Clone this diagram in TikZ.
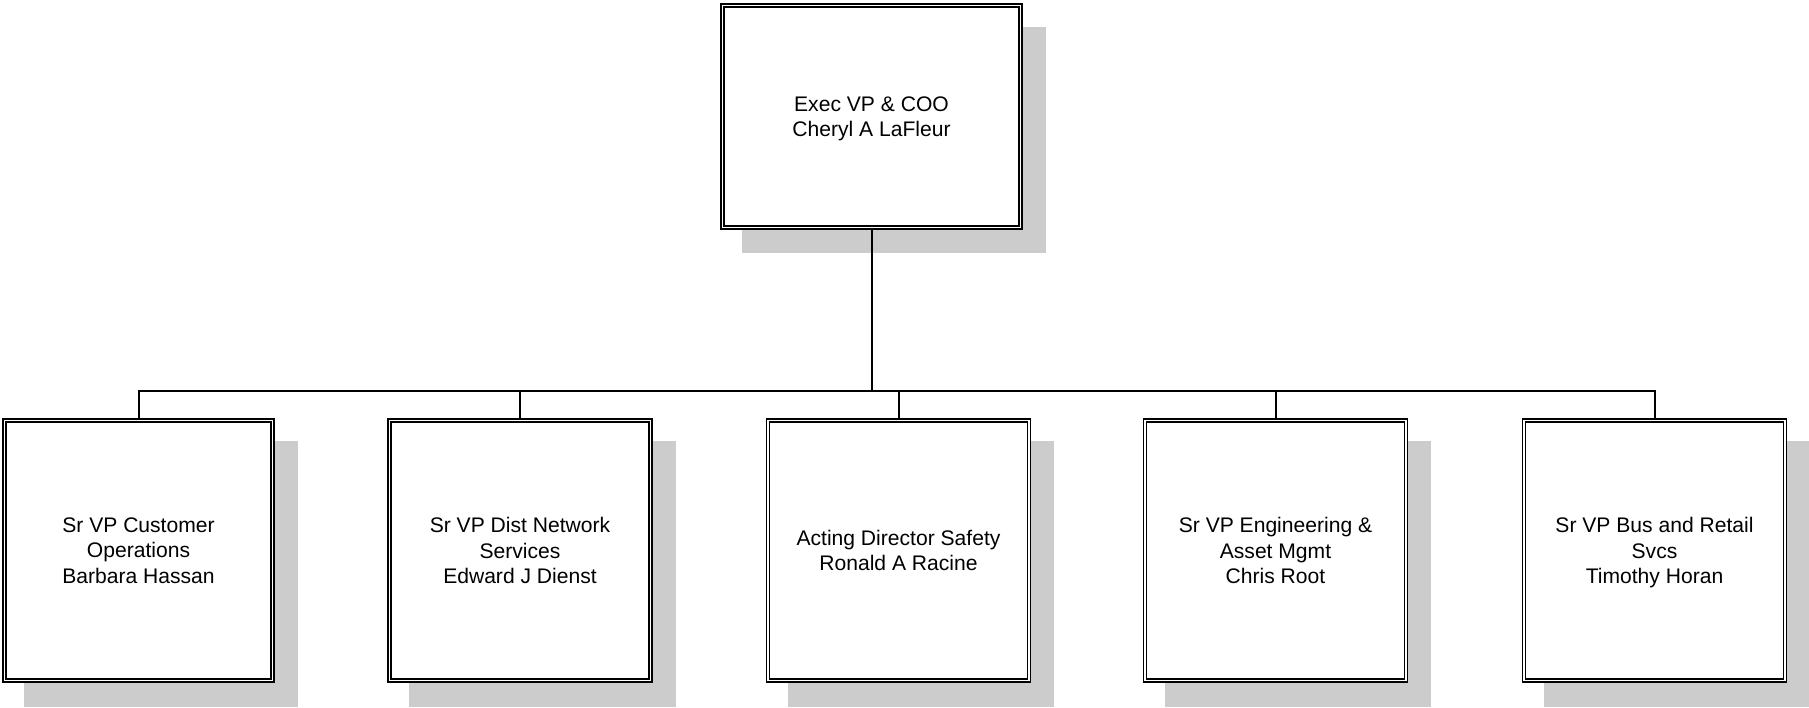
\documentclass[tikz,border=0pt]{standalone}
\usepackage{fontspec}
\setmainfont{Liberation Sans}
\usetikzlibrary{shadows}
\tikzset{
  post/.style={rectangle, draw, fill=white, double, line width=0.034cm, double distance=0.03cm,
    minimum width=5.222cm, minimum height=5.202cm, outer sep=0.049cm, align=center,
    font=\fontsize{12}{14.6}\selectfont, text depth=0pt,
    drop shadow={shadow xshift=0.44cm, shadow yshift=-0.46cm, shadow scale=1.02, fill=black!20, opacity=1}},
  link/.style={line width=0.04cm}
}
\begin{document}
\begin{tikzpicture}[x=0.02cm, y=-0.02cm]
\useasboundingbox (0,0) rectangle (1809,707);
% top
\node[post, minimum width=5.962cm, minimum height=4.442cm] (coo) at (871.5,116.5) {Exec VP \& COO\\Cheryl A LaFleur};
% reports
\node[post, minimum width=5.362cm] (cust) at (138.5,550.5) {Sr VP Customer\\Operations\\Barbara Hassan};
\node[post] (dist) at (520,550.5) {Sr VP Dist Network\\Services\\Edward J Dienst};
\node[post] (safety) at (898.5,550.5) {Acting Director Safety\\Ronald A Racine};
\node[post] (eng) at (1275.5,550.5) {Sr VP Engineering \&\\Asset Mgmt\\Chris Root};
\node[post] (retail) at (1654.5,550.5) {Sr VP Bus and Retail\\Svcs\\Timothy Horan};
\coordinate (bar) at (871.5,391);
\draw[link] (coo.south) -- (bar);
\draw[link] (cust.north) |- (bar) -| (retail.north);
\foreach \n in {dist,safety,eng}
  \draw[link] (\n.north) -- (\n.north |- bar);
\end{tikzpicture}
\end{document}
